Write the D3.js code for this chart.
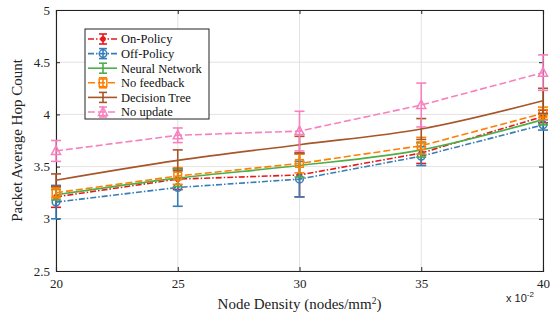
<!DOCTYPE html>
<html><head><meta charset="utf-8">
<script src="https://cdn.jsdelivr.net/npm/d3@7"></script>
<style>body{margin:0;background:#fff}svg{display:block}</style>
</head><body>
<svg id="c" width="557" height="320"></svg>
<script>
const xValues = [20, 25, 30, 35, 40];
const xTicks = [20, 25, 30, 35, 40];
const yTicks = [2.5, 3, 3.5, 4, 4.5, 5];
const seriesNames = ["On-Policy", "Off-Policy", "Neural Network", "No feedback", "Decision Tree", "No update"];
const onPolicy = [3.21, 3.38, 3.42, 3.63, 3.98];
const onPolicyErr = [0.10, 0.10, 0.21, 0.10, 0.06];
const offPolicy = [3.16, 3.30, 3.38, 3.60, 3.90];
const offPolicyErr = [0.16, 0.18, 0.17, 0.09, 0.05];
const neuralNetwork = [3.23, 3.39, 3.51, 3.66, 3.95];
const neuralNetworkErr = [0.05, 0.08, 0.11, 0.07, 0.05];
const noFeedback = [3.25, 3.41, 3.53, 3.70, 4.01];
const noFeedbackErr = [0.05, 0.08, 0.09, 0.08, 0.06];
const decisionTree = [3.37, 3.56, 3.71, 3.86, 4.13];
const decisionTreeErr = [0.06, 0.10, 0.08, 0.10, 0.12];
const noUpdate = [3.65, 3.80, 3.84, 4.09, 4.40];
const noUpdateErr = [0.10, 0.07, 0.19, 0.21, 0.17];

const styles = [
  {color:"#e41a1c", dash:"6,2,1.5,2", marker:"dot", curve:d3.curveLinear},
  {color:"#377eb8", dash:"6,2,1.5,2", marker:"circle", curve:d3.curveLinear},
  {color:"#4daf4a", dash:null, marker:"none", curve:d3.curveMonotoneX},
  {color:"#ff7f00", dash:"7,3", marker:"square", curve:d3.curveLinear},
  {color:"#a65628", dash:null, marker:"none", curve:d3.curveMonotoneX},
  {color:"#f781bf", dash:"7,3", marker:"triangle", curve:d3.curveLinear}
];
const values = [onPolicy, offPolicy, neuralNetwork, noFeedback, decisionTree, noUpdate];
const errs = [onPolicyErr, offPolicyErr, neuralNetworkErr, noFeedbackErr, decisionTreeErr, noUpdateErr];

const svg = d3.select("#c");
const L = 56, R = 543, T = 10, B = 271;
const x = d3.scaleLinear().domain([20, 40]).range([L, R]);
const y = d3.scaleLinear().domain([2.5, 5]).range([B, T]);
const serif = "'Liberation Serif','Times New Roman',serif";

// grid
svg.append("g").selectAll("line").data(xTicks).join("line")
  .attr("x1", d=>x(d)).attr("x2", d=>x(d)).attr("y1", T).attr("y2", B)
  .attr("stroke", "#e3e3e3").attr("stroke-width", 1);
svg.append("g").selectAll("line").data(yTicks).join("line")
  .attr("x1", L).attr("x2", R).attr("y1", d=>y(d)).attr("y2", d=>y(d))
  .attr("stroke", "#e3e3e3").attr("stroke-width", 1);

// axes
svg.append("g").attr("transform", `translate(0,${B})`)
  .call(d3.axisBottom(x).tickValues(xTicks).tickSize(-4).tickPadding(8).tickFormat(d3.format("d")));
svg.append("g").attr("transform", `translate(${L},0)`)
  .call(d3.axisLeft(y).tickValues(yTicks).tickSize(-4).tickPadding(6).tickFormat(d=>String(d)));
svg.append("g").attr("transform", `translate(${R},0)`)
  .call(d3.axisRight(y).tickValues(yTicks).tickSize(-4).tickFormat(""));
svg.append("g").attr("transform", `translate(0,${T})`)
  .call(d3.axisTop(x).tickValues(xTicks).tickSize(-4).tickFormat(""));
svg.selectAll(".domain").attr("stroke", "#222").attr("stroke-width", 1.1);
svg.selectAll(".tick line").attr("stroke", "#222");
svg.selectAll(".tick text").attr("font-family", serif).attr("font-size", 13).attr("fill", "#222");

// series
const line = (c) => d3.line().x((d,i)=>x(xValues[i])).y(d=>y(d)).curve(c);
values.forEach((vals, s) => {
  const st = styles[s];
  const g = svg.append("g");
  g.append("path").attr("d", line(st.curve)(vals)).attr("fill", "none")
    .attr("stroke", st.color).attr("stroke-width", 1.6)
    .attr("stroke-dasharray", st.dash);
  vals.forEach((v, i) => {
    const cx = x(xValues[i]), e = errs[s][i];
    const y1 = y(v + e), y2 = y(v - e);
    g.append("line").attr("x1", cx).attr("x2", cx).attr("y1", y1).attr("y2", y2)
      .attr("stroke", st.color).attr("stroke-width", 1.6);
    [y1, y2].forEach(yy => g.append("line").attr("x1", cx-5).attr("x2", cx+5)
      .attr("y1", yy).attr("y2", yy).attr("stroke", st.color).attr("stroke-width", 1.6));
    drawMarker(g, st, cx, y(v));
  });
});

function drawMarker(g, st, cx, cy) {
  if (st.marker === "dot") {
    g.append("circle").attr("cx", cx).attr("cy", cy).attr("r", 2.8).attr("fill", st.color);
  } else if (st.marker === "circle") {
    g.append("circle").attr("cx", cx).attr("cy", cy).attr("r", 3.8).attr("fill", "none")
      .attr("stroke", st.color).attr("stroke-width", 1.5);
  } else if (st.marker === "square") {
    g.append("rect").attr("x", cx-3.8).attr("y", cy-3.8).attr("width", 7.6).attr("height", 7.6)
      .attr("fill", "none").attr("stroke", st.color).attr("stroke-width", 1.5);
  } else if (st.marker === "triangle") {
    g.append("path").attr("d", `M${cx},${cy-5}L${cx+4.5},${cy+3.5}L${cx-4.5},${cy+3.5}Z`)
      .attr("fill", "none").attr("stroke", st.color).attr("stroke-width", 1.5);
  }
}

// legend
const lg = svg.append("g");
const lx = 85, ly = 29, lw = 124, lh = 90, step = 14.6;
lg.append("rect").attr("x", lx).attr("y", ly).attr("width", lw).attr("height", lh)
  .attr("fill", "#fff").attr("stroke", "#222").attr("stroke-width", 1);
seriesNames.forEach((name, s) => {
  const st = styles[s];
  const yy = ly + 10 + s * step;
  lg.append("line").attr("x1", lx+3).attr("x2", lx+32).attr("y1", yy).attr("y2", yy)
    .attr("stroke", st.color).attr("stroke-width", 1.6).attr("stroke-dasharray", st.dash);
  const mx = lx + 18;
  lg.append("line").attr("x1", mx).attr("x2", mx).attr("y1", yy-5).attr("y2", yy+5)
    .attr("stroke", st.color).attr("stroke-width", 1.6);
  [yy-5, yy+5].forEach(q => lg.append("line").attr("x1", mx-4).attr("x2", mx+4)
    .attr("y1", q).attr("y2", q).attr("stroke", st.color).attr("stroke-width", 1.6));
  drawMarker(lg, st, mx, yy);
  lg.append("text").attr("x", lx+36).attr("y", yy+4.3).text(name)
    .attr("font-family", serif).attr("font-size", 12.5).attr("fill", "#111");
});

// labels
svg.append("text").attr("transform", `translate(22,${(T+B)/2}) rotate(-90)`)
  .attr("text-anchor", "middle").attr("font-family", serif).attr("font-size", 15)
  .attr("fill", "#222").text("Packet Average Hop Count");
const xl = svg.append("text").attr("x", x(30)).attr("y", 309).attr("text-anchor", "middle")
  .attr("font-family", serif).attr("font-size", 15).attr("fill", "#222");
xl.append("tspan").text("Node Density (nodes/mm");
xl.append("tspan").attr("dy", -5).attr("font-size", 9.5).text("2");
xl.append("tspan").attr("dy", 5).text(")");
const ex = svg.append("text").attr("x", 506).attr("y", 302)
  .attr("font-family", "'Liberation Sans',Arial,sans-serif").attr("font-size", 11).attr("fill", "#222");
ex.append("tspan").text("x 10");
ex.append("tspan").attr("dy", -5).attr("font-size", 8).text("-2");
</script>
</body></html>
